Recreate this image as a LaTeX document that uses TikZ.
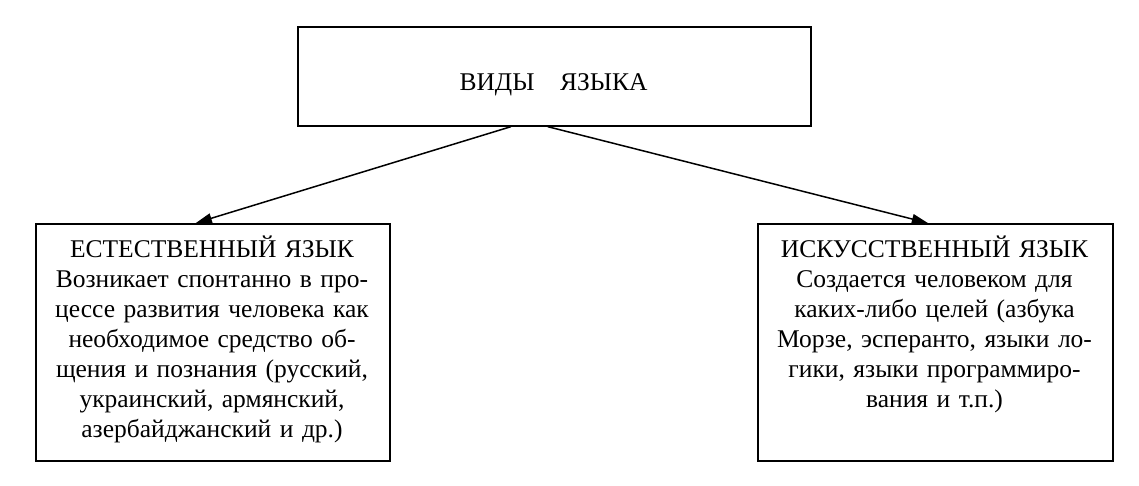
\documentclass[tikz,border=0pt]{standalone}
\usepackage{fontspec}
\setmainfont{Liberation Serif}
\usetikzlibrary{arrows.meta}
\begin{document}
\begin{tikzpicture}[x=1pt,y=-1pt,
  frame/.style={draw, line width=1.7pt, inner sep=0pt, anchor=north west},
  txt/.style={inner sep=0pt, align=center, anchor=base, font=\fontsize{25.5}{30}\selectfont},
  arr/.style={line width=1.5pt, -{Triangle[length=16pt,width=10pt]}}]
\useasboundingbox (0,0) rectangle (1139,486);
\fill[white] (0,0) rectangle (1139,486);
\node[frame, minimum width=513pt, minimum height=99pt] (top) at (297,26) {};
\node[frame, minimum width=354pt, minimum height=237pt] (left) at (35,223) {};
\node[frame, minimum width=355pt, minimum height=237pt] (right) at (757,223) {};
\node[txt, text width=354pt] (toptext) at (553.5,91) {ВИДЫ\ \ \ ЯЗЫКА};
\node[txt, text width=354pt] (lefttext) at (212,257) {ЕСТЕСТВЕННЫЙ ЯЗЫК\\
Возникает спонтанно в про-\\
цессе развития человека как\\
необходимое средство об-\\
щения и познания (русский,\\
украинский, армянский,\\
азербайджанский и др.)};
\node[txt, text width=355pt] (righttext) at (934.5,257) {ИСКУССТВЕННЫЙ ЯЗЫК\\
Создается человеком для\\
каких-либо целей (азбука\\
Морзе, эсперанто, языки ло-\\
гики, языки программиро-\\
вания и т.п.)};
\draw[arr] ([xshift=-43.5pt]top.south) -- ([xshift=-17pt]left.north);
\draw[arr] ([xshift=-6.5pt]top.south) -- ([xshift=-7.5pt]right.north);
\end{tikzpicture}
\end{document}
